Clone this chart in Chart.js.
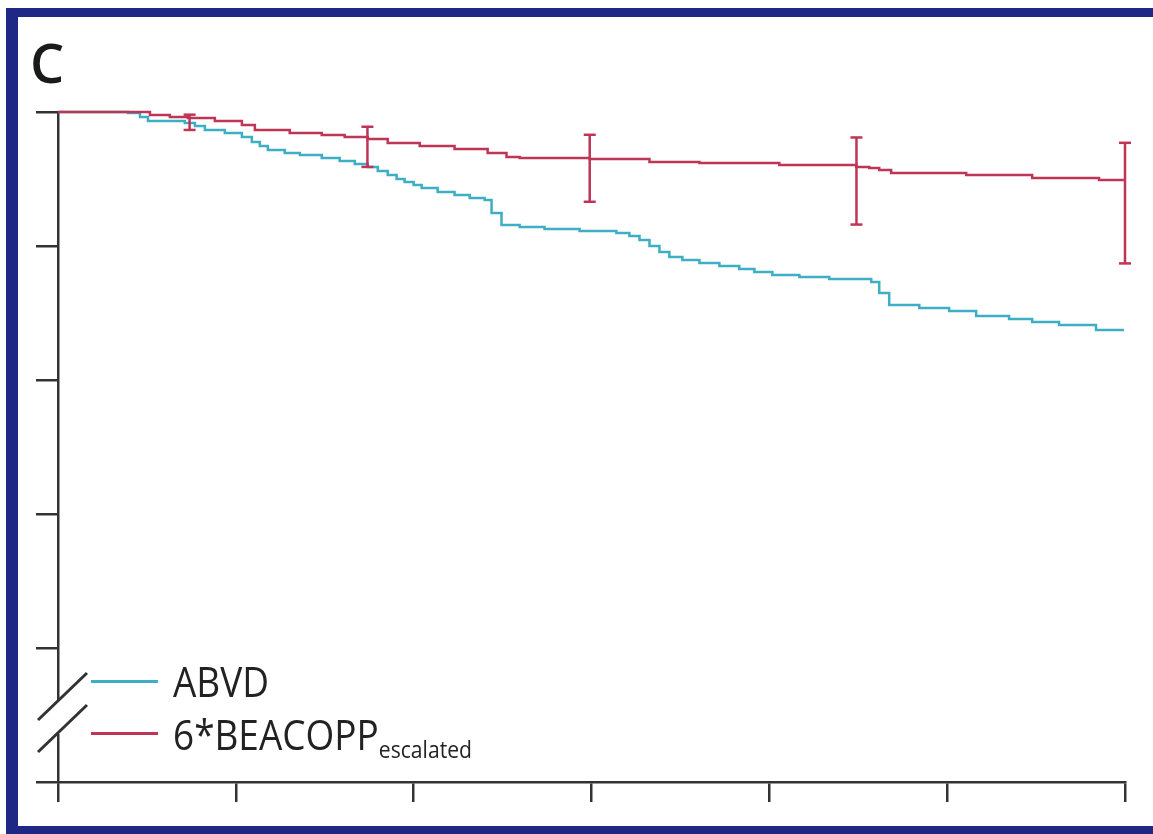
<!DOCTYPE html>
<html>
<head>
    <title>Kaplan-Meier C</title>
    <script src="https://cdn.jsdelivr.net/npm/chart.js"></script>
    <style>
        body {
            margin: 0;
            background: #fff;
            width: 1153px;
            height: 834px;
            overflow: hidden;
        }
        .frame {
            position: absolute;
            left: 6px;
            top: 8px;
            width: 1200px;
            height: 826px;
            box-sizing: border-box;
            border-left: 12px solid #1f2884;
            border-top: 9px solid #1f2884;
            border-bottom: 8px solid #1f2884;
        }
        #kmChart {
            position: absolute;
            left: 0;
            top: 0;
        }
        .panel {
            position: absolute;
            left: 30px;
            top: 35px;
            font: 600 54px "Open Sans", sans-serif;
            line-height: 1;
            color: #1a1a1a;
        }
        .key {
            position: absolute;
            height: 3px;
            width: 67px;
            left: 91px;
        }
        .label {
            position: absolute;
            left: 173px;
            font: 42px "Open Sans", sans-serif;
            line-height: 1;
            color: #222;
            white-space: nowrap;
            transform: scaleX(0.88);
            transform-origin: left center;
        }
        .label sub {
            font-size: 24px;
            vertical-align: -8px;
        }
    </style>
</head>
<body>
    <div class="frame"></div>
    <canvas id="kmChart" width="1153" height="834"></canvas>
    <div class="panel">C</div>
    <div class="key" style="top: 680px; background: #3daec4;"></div>
    <div class="label" style="top: 660px;">ABVD</div>
    <div class="key" style="top: 732px; background: #bf3556;"></div>
    <div class="label" style="top: 713px;">6*BEACOPP<sub>escalated</sub></div>
    <script>
        // years since randomisation, Kaplan-Meier estimates
        const abvdTime = [0, 0.393, 0.461, 0.506, 0.713, 0.770, 0.826, 0.938, 1.034, 1.090, 1.135, 1.180, 1.275, 1.360, 1.483, 1.584, 1.669, 1.742,
            1.798, 1.854, 1.904, 1.949, 2.000, 2.045, 2.135, 2.230, 2.315, 2.399, 2.438, 2.494, 2.596, 2.736, 2.933, 3.140, 3.213, 3.270, 3.326,
            3.382, 3.438, 3.511, 3.607, 3.719, 3.831, 3.916, 4.017, 4.169, 4.337, 4.573, 4.618, 4.674, 4.843, 5.011, 5.163, 5.348, 5.478, 5.629, 5.837, 5.994];
        const abvdSurv = [1.0, 0.9993, 0.9963, 0.9933, 0.9918, 0.9896, 0.9866, 0.9843, 0.9813, 0.9776, 0.9746, 0.9716, 0.9694, 0.9679, 0.9657, 0.9634, 0.9612, 0.9590,
            0.9560, 0.9530, 0.9500, 0.9478, 0.9455, 0.9433, 0.9403, 0.9381, 0.9358, 0.9343, 0.9246, 0.9157, 0.9142, 0.9127, 0.9112, 0.9097, 0.9075, 0.9045, 0.9000,
            0.8955, 0.8918, 0.8896, 0.8873, 0.8851, 0.8828, 0.8806, 0.8784, 0.8769, 0.8754, 0.8731, 0.8649, 0.8560, 0.8537, 0.8515, 0.8478, 0.8455, 0.8433, 0.8410, 0.8373, 0.8373];

        const beaTime = [0, 0.393, 0.517, 0.629, 0.730, 0.882, 1.034, 1.107, 1.303, 1.483, 1.612, 1.742, 1.854, 2.034, 2.230, 2.416, 2.522, 2.596,
            2.989, 3.326, 3.607, 4.056, 4.489, 4.562, 4.618, 4.685, 5.107, 5.478, 5.854, 5.994];
        const beaSurv = [1.0, 1.0, 0.9978, 0.9963, 0.9955, 0.9933, 0.9903, 0.9866, 0.9843, 0.9828, 0.9813, 0.9799, 0.9769, 0.9746, 0.9724, 0.9694, 0.9664, 0.9657,
            0.9649, 0.9627, 0.9619, 0.9604, 0.9590, 0.9582, 0.9567, 0.9545, 0.9530, 0.9507, 0.9493, 0.9493];

        // confidence intervals for BEACOPP
        const ciTime = [0.74, 1.74, 2.99, 4.49, 6.0];
        const ciLow = [0.9866, 0.959, 0.933, 0.916, 0.887];
        const ciHigh = [0.998, 0.989, 0.983, 0.981, 0.977];

        const xTicks = [0, 1, 2, 3, 4, 5, 6];
        const yTicks = [0.5, 0.6, 0.7, 0.8, 0.9, 1.0];

        const RED = '#bf3556';
        const BLUE = '#3daec4';
        const AXIS = '#333333';

        const toPoints = (xs, ys) => xs.map((x, i) => ({x: x, y: ys[i]}));

        const ciPoints = [];
        ciTime.forEach((t, i) => {
            ciPoints.push({x: t, y: ciHigh[i]});
            ciPoints.push({x: t, y: ciLow[i]});
            ciPoints.push({x: t, y: null});
        });

        // white gap + two slashes on the y axis
        const axisBreak = {
            id: 'axisBreak',
            afterDraw(chart) {
                const ctx = chart.ctx;
                const x = chart.chartArea.left;
                ctx.save();
                ctx.fillStyle = '#fff';
                ctx.fillRect(x - 4, 701, 8, 33);
                ctx.strokeStyle = AXIS;
                ctx.lineWidth = 3;
                ctx.beginPath();
                ctx.moveTo(38, 720);
                ctx.lineTo(87, 673);
                ctx.moveTo(38, 752);
                ctx.lineTo(87, 705);
                ctx.stroke();
                ctx.restore();
            }
        };

        const ctx = document.getElementById('kmChart').getContext('2d');
        new Chart(ctx, {
            type: 'line',
            data: {
                datasets: [{
                    label: 'CI',
                    data: ciPoints,
                    borderColor: RED,
                    borderWidth: 2.5,
                    spanGaps: false,
                    pointStyle: 'line',
                    pointRadius: 6,
                    pointBorderWidth: 2.5,
                    pointBorderColor: RED,
                    clip: false,
                    order: 0
                }, {
                    label: '6*BEACOPP escalated',
                    data: toPoints(beaTime, beaSurv),
                    borderColor: RED,
                    borderWidth: 2.5,
                    stepped: true,
                    pointRadius: 0,
                    clip: false,
                    order: 1
                }, {
                    label: 'ABVD',
                    data: toPoints(abvdTime, abvdSurv),
                    borderColor: BLUE,
                    borderWidth: 2.5,
                    stepped: true,
                    pointRadius: 0,
                    clip: false,
                    order: 2
                }]
            },
            options: {
                responsive: false,
                animation: false,
                layout: {
                    padding: {left: 36, right: 28, top: 112, bottom: 32}
                },
                plugins: {
                    legend: {display: false},
                    tooltip: {enabled: false}
                },
                scales: {
                    x: {
                        type: 'linear',
                        min: xTicks[0],
                        max: xTicks[xTicks.length - 1],
                        afterBuildTicks: scale => { scale.ticks = xTicks.map(v => ({value: v})); },
                        ticks: {display: false},
                        grid: {drawOnChartArea: false, tickLength: 20, color: AXIS, lineWidth: 2.5},
                        border: {color: AXIS, width: 2.5}
                    },
                    y: {
                        min: yTicks[0],
                        max: yTicks[yTicks.length - 1],
                        afterBuildTicks: scale => { scale.ticks = yTicks.map(v => ({value: v})); },
                        ticks: {display: false},
                        grid: {drawOnChartArea: false, tickLength: 22, color: AXIS, lineWidth: 2.5},
                        border: {color: AXIS, width: 2.5}
                    }
                }
            },
            plugins: [axisBreak]
        });
    </script>
</body>
</html>
